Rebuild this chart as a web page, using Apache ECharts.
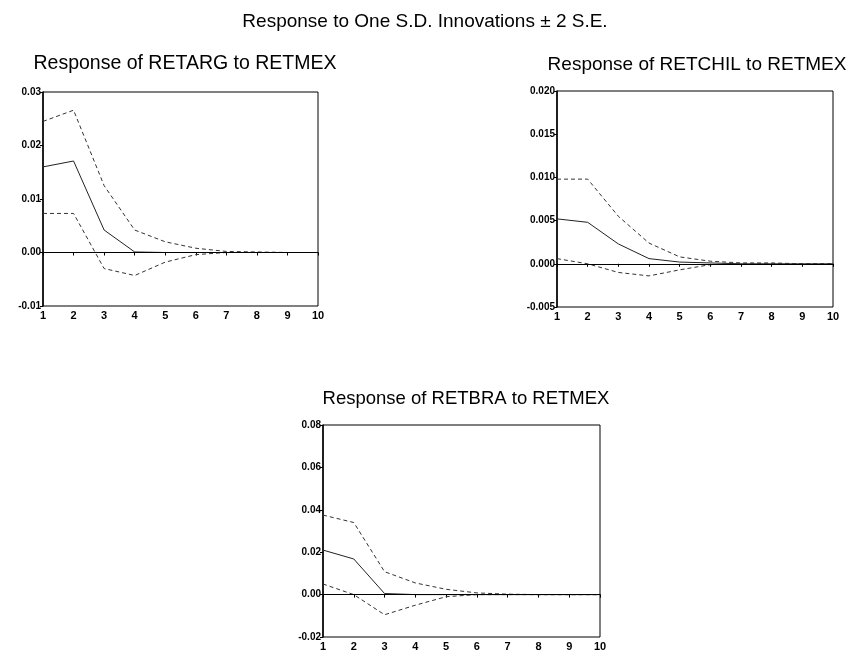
<!DOCTYPE html>
<html><head><meta charset="utf-8">
<script src="https://cdn.jsdelivr.net/npm/echarts@6/dist/echarts.min.js"></script>
<style>html,body{margin:0;padding:0;background:#fff}#c{width:850px;height:658px}</style>
</head><body><div id="c"></div>
<script>
const periods = [1,2,3,4,5,6,7,8,9,10];

const argResp  = [0.0160, 0.0171, 0.0042, 0.0001, 0.0000, 0.0000, 0.0000, 0.0000, 0.0000, 0.0000];
const argUpper = [0.0245, 0.0266, 0.0125, 0.0042, 0.0020, 0.0008, 0.0002, 0.0001, 0.0000, 0.0000];
const argLower = [0.0073, 0.0073, -0.0030, -0.0043, -0.0018, -0.0004, 0.0000, 0.0000, 0.0000, 0.0000];

const chilResp  = [0.0052, 0.0048, 0.0023, 0.0006, 0.0002, 0.0001, 0.0000, 0.0000, 0.0000, 0.0000];
const chilUpper = [0.0098, 0.0098, 0.0055, 0.0024, 0.0008, 0.0003, 0.0001, 0.0001, 0.0000, 0.0000];
const chilLower = [0.0006, 0.0000, -0.0010, -0.0014, -0.0007, -0.0001, 0.0000, 0.0000, 0.0000, 0.0000];

const braResp  = [0.0210, 0.0168, 0.0005, 0.0000, 0.0000, 0.0000, 0.0000, 0.0000, 0.0000, 0.0000];
const braUpper = [0.0375, 0.0340, 0.0108, 0.0055, 0.0025, 0.0008, 0.0002, 0.0000, 0.0000, 0.0000];
const braLower = [0.0050, 0.0000, -0.0095, -0.0050, -0.0010, 0.0000, 0.0000, 0.0000, 0.0000, 0.0000];

const mainTitle = 'Response to One S.D. Innovations \u00b1 2 S.E.';
const panelTitles = ['Response of RETARG to RETMEX','Response of RETCHIL to RETMEX','Response of RETBRA to RETMEX'];
const yMins = [-0.01, -0.005, -0.02];
const yMaxs = [0.03, 0.02, 0.08];
const yIntervals = [0.01, 0.005, 0.02];
const yDecimals = [2, 3, 2];

const panels = [
  {resp: argResp, up: argUpper, lo: argLower},
  {resp: chilResp, up: chilUpper, lo: chilLower},
  {resp: braResp, up: braUpper, lo: braLower}
];

const grids = [
  {left: 43, top: 92, width: 275, height: 214},
  {left: 557, top: 91, width: 276, height: 216},
  {left: 323, top: 425, width: 277, height: 212}
];
const titlePos = [{x:180,y:49,s:19.5},{x:692,y:50,s:19},{x:461,y:384,s:18.5}];

const font = '"Liberation Sans", Arial, sans-serif';
const option = {
  animation: false,
  backgroundColor: '#fff',
  title: [{text: mainTitle, left: 'center', top: 7, textStyle: {fontFamily: font, fontWeight: 'normal', fontSize: 19, color: '#000'}}]
    .concat(panelTitles.map((t,i)=>({text: t, left: titlePos[i].x, top: titlePos[i].y, textAlign: 'center',
      textStyle: {fontFamily: font, fontWeight: 'normal', fontSize: titlePos[i].s, color: '#000'}}))),
  grid: grids.map(g=>Object.assign({show: true, borderColor: '#000', borderWidth: 1, backgroundColor: 'transparent'}, g)),
  xAxis: grids.map((g,i)=>({
    type: 'value', gridIndex: i, min: 1, max: 10, interval: 1,
    axisLine: {show: true, lineStyle: {color: '#000'}},
    axisTick: {show: true, length: 3, lineStyle: {color: '#000'}},
    axisLabel: {fontFamily: font, fontSize: 11, fontWeight: 'bold', color: '#000', margin: 4},
    splitLine: {show: false}
  })),
  yAxis: grids.map((g,i)=>({
    type: 'value', gridIndex: i, min: yMins[i], max: yMaxs[i], interval: yIntervals[i],
    axisLine: {show: true, lineStyle: {color: '#000', width: 1.5}},
    axisTick: {show: true, length: 3, lineStyle: {color: '#000'}},
    axisLabel: {fontFamily: font, fontSize: 10, fontWeight: 'bold', color: '#000', margin: 2,
      formatter: v => v.toFixed(yDecimals[i])},
    splitLine: {show: false}
  })),
  series: []
};
panels.forEach((p,i)=>{
  const mk = (arr) => periods.map((x,k)=>[x, arr[k]]);
  option.series.push({type:'line', xAxisIndex:i, yAxisIndex:i, data: mk(p.resp), symbol:'none',
    lineStyle:{color:'#222', width:1, type:'solid'},
    markLine:{silent:true, symbol:'none', label:{show:false}, lineStyle:{color:'#000', width:1, type:'solid'}, data:[{yAxis:0}]}});
  option.series.push({type:'line', xAxisIndex:i, yAxisIndex:i, data: mk(p.up), symbol:'none',
    lineStyle:{color:'#333', width:1, type:[4,3]}});
  option.series.push({type:'line', xAxisIndex:i, yAxisIndex:i, data: mk(p.lo), symbol:'none',
    lineStyle:{color:'#333', width:1, type:[4,3]}});
});
echarts.init(document.getElementById('c'), null, {renderer:'canvas'}).setOption(option);
</script></body></html>
